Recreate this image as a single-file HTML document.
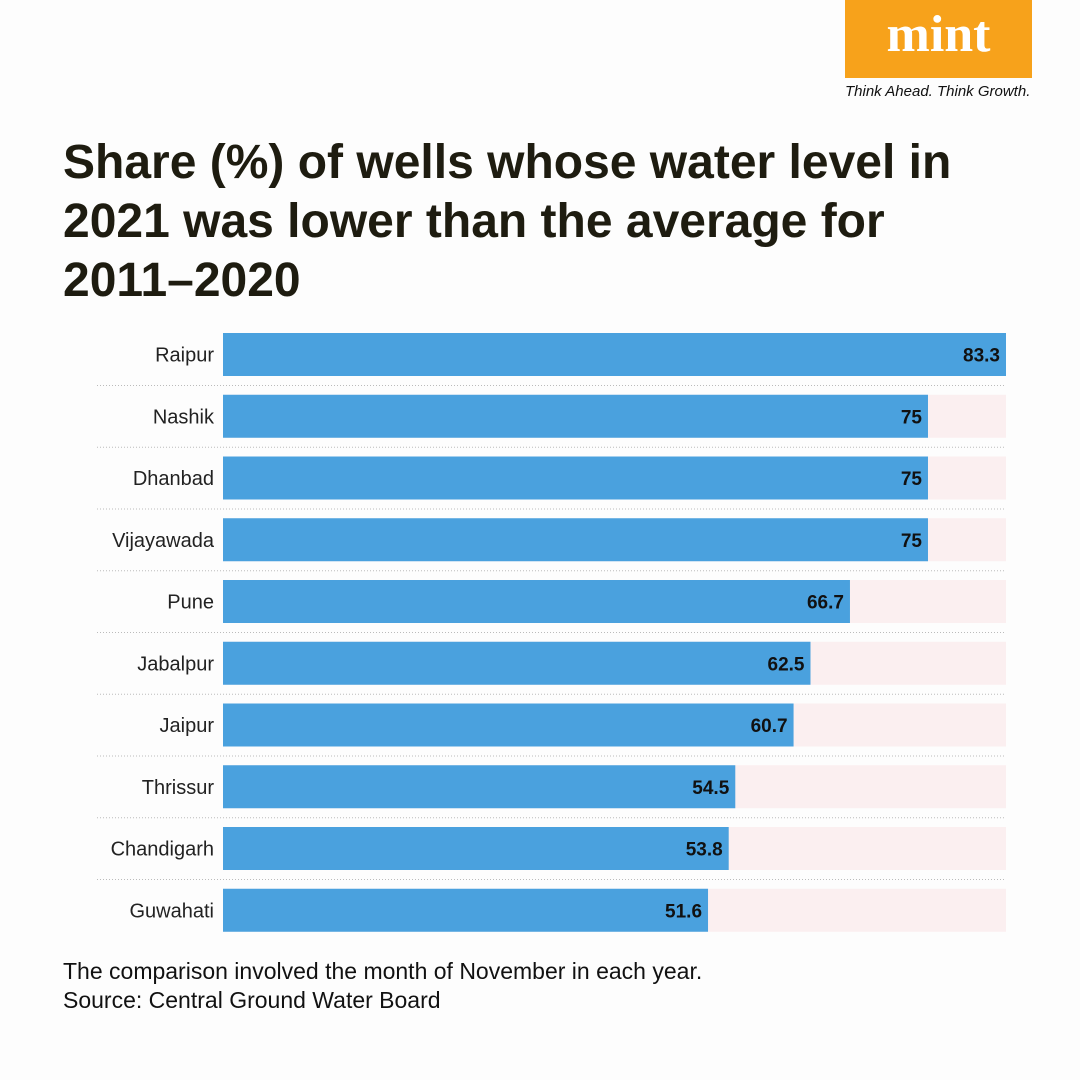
<!DOCTYPE html>
<html><head><meta charset="utf-8"><style>
body{margin:0;width:1080px;height:1080px;background:#fdfdfd;font-family:"Liberation Sans",sans-serif;position:relative;overflow:hidden}
.logo{position:absolute;left:845px;top:0;width:187px;height:78px;background:#f7a21b;color:#fff;font-family:"Liberation Serif",serif;font-weight:bold;font-size:52px;text-align:center;line-height:70px}
.tag{position:absolute;left:845px;top:83px;font-size:15px;font-style:italic;color:#111}
h1{position:absolute;left:63px;top:133px;margin:0;font-size:48px;line-height:59px;font-weight:bold;color:#1e1c10;white-space:nowrap}
.note{position:absolute;left:63px;top:957px;font-size:23px;line-height:29px;color:#111}
</style></head><body>
<div class="logo">mint</div>
<div class="tag">Think Ahead. Think Growth.</div>
<h1>Share (%) of wells whose water level in<br>2021 was lower than the average for<br>2011–2020</h1>
<svg id="chart" width="1080" height="1080" style="position:absolute;left:0;top:0"></svg>
<div class="note">The comparison involved the month of November in each year.<br>Source: Central Ground Water Board</div>
<script>
const categories=["Raipur","Nashik","Dhanbad","Vijayawada","Pune","Jabalpur","Jaipur","Thrissur","Chandigarh","Guwahati"];
const values=[83.3,75,75,75,66.7,62.5,60.7,54.5,53.8,51.6];
const labels=["83.3","75","75","75","66.7","62.5","60.7","54.5","53.8","51.6"];
const svg=document.getElementById('chart');
const NS='http://www.w3.org/2000/svg';
const x0=223,x1=1006,maxV=Math.max(...values);
const xs=v=>x0+(x1-x0)*v/maxV;
const ys=i=>333+i*61.75;
const bh=43;
function mk(t,a){const e=document.createElementNS(NS,t);for(const k in a)e.setAttribute(k,a[k]);svg.appendChild(e);return e;}
categories.forEach((c,i)=>{
  const y=ys(i);
  const bg=mk('rect',{x:x0,y:y,width:x1-x0,height:bh,fill:'#fbeff0'});
  
  
  const r=mk('rect',{x:x0,y:y,width:xs(values[i])-x0,height:bh,fill:'#4aa1de'});
  
  
  const vt=mk('text',{x:xs(values[i])-6,y:y+bh/2+7,'text-anchor':'end','font-size':19,'font-weight':'bold',fill:'#111'});
  vt.textContent=labels[i];
  
  
  const ct=mk('text',{x:214,y:y+bh/2+7,'text-anchor':'end','font-size':20,fill:'#222'});
  ct.textContent=c;
  
  
  if(i<categories.length-1){
    const l=mk('line',{x1:97,x2:x1,y1:y+bh+9.5,y2:y+bh+9.5,stroke:'#bbb','stroke-width':1,'stroke-dasharray':'1 2'});
    
    
  }
});
</script>
</body></html>
